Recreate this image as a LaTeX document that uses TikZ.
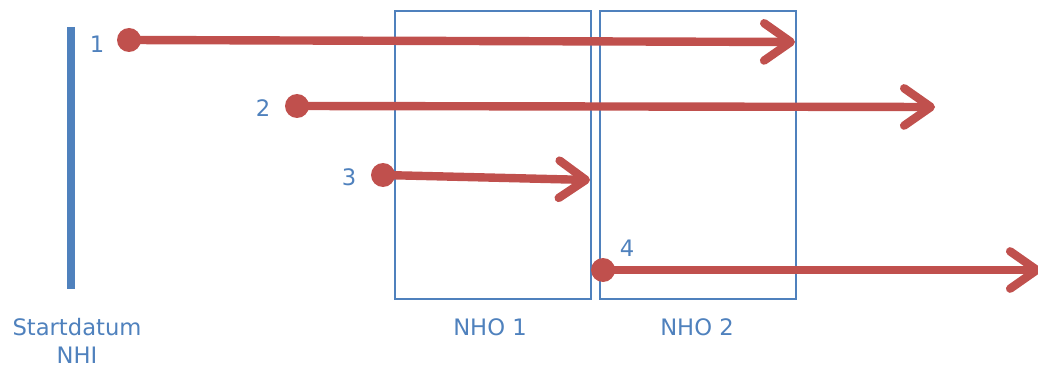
\documentclass[tikz,border=0pt]{standalone}
\usepackage{fontspec}
\setmainfont{DejaVu Sans}
\usetikzlibrary{arrows.meta}
\definecolor{myred}{HTML}{C0504D}
\definecolor{myblue}{HTML}{4F81BD}
\begin{document}
\begin{tikzpicture}[x=0.75pt,y=-0.75pt,
  box/.style={draw=myblue, line width=1.7pt, minimum width=147pt, minimum height=216pt, inner sep=0pt},
  dot/.style={circle, fill=myred, minimum size=18pt, inner sep=0pt},
  conn/.style={draw=myred, line width=6.3pt, -{Straight Barb[length=20pt,width=28pt,line cap=round,round]}},
  lbl/.style={text=myblue, font=\fontsize{17}{20}\selectfont, inner sep=0pt}]
\useasboundingbox (0,0) rectangle (1038,367);
\node[box] (nho1) at (493,155) {};
\node[box] (nho2) at (698,155) {};
\coordinate (bartop) at (71,27);
\coordinate (barbot) at (71,289);
\draw[myblue, line width=6.3pt] (bartop) -- (barbot);
\node[lbl] (sd) at (77,327) {Startdatum};
\node[lbl, anchor=base] (nhi) at (77,363) {NHI};
\node[lbl] (l1) at (490,327) {NHO 1};
\node[lbl] (l2) at (697,327) {NHO 2};
\node[dot] (d1) at (129,40) {};
\node[dot] (d2) at (297,106) {};
\node[dot] (d3) at (383,175) {};
\node[dot] (d4) at (603,270) {};
\coordinate (e1) at (795,42);
\coordinate (e2) at (935,107);
\coordinate (e3) at (590,180);
\coordinate (e4) at (1041,270);
\draw[conn] (d1.center) -- (e1);
\draw[conn] (d2.center) -- (e2);
\draw[conn] (d3.center) -- (e3);
\draw[conn] (d4.center) -- (e4);
\node[lbl] (n1) at (97,44) {1};
\node[lbl] (n2) at (263,108) {2};
\node[lbl] (n3) at (349,177) {3};
\node[lbl] (n4) at (627,248) {4};
\end{tikzpicture}
\end{document}
